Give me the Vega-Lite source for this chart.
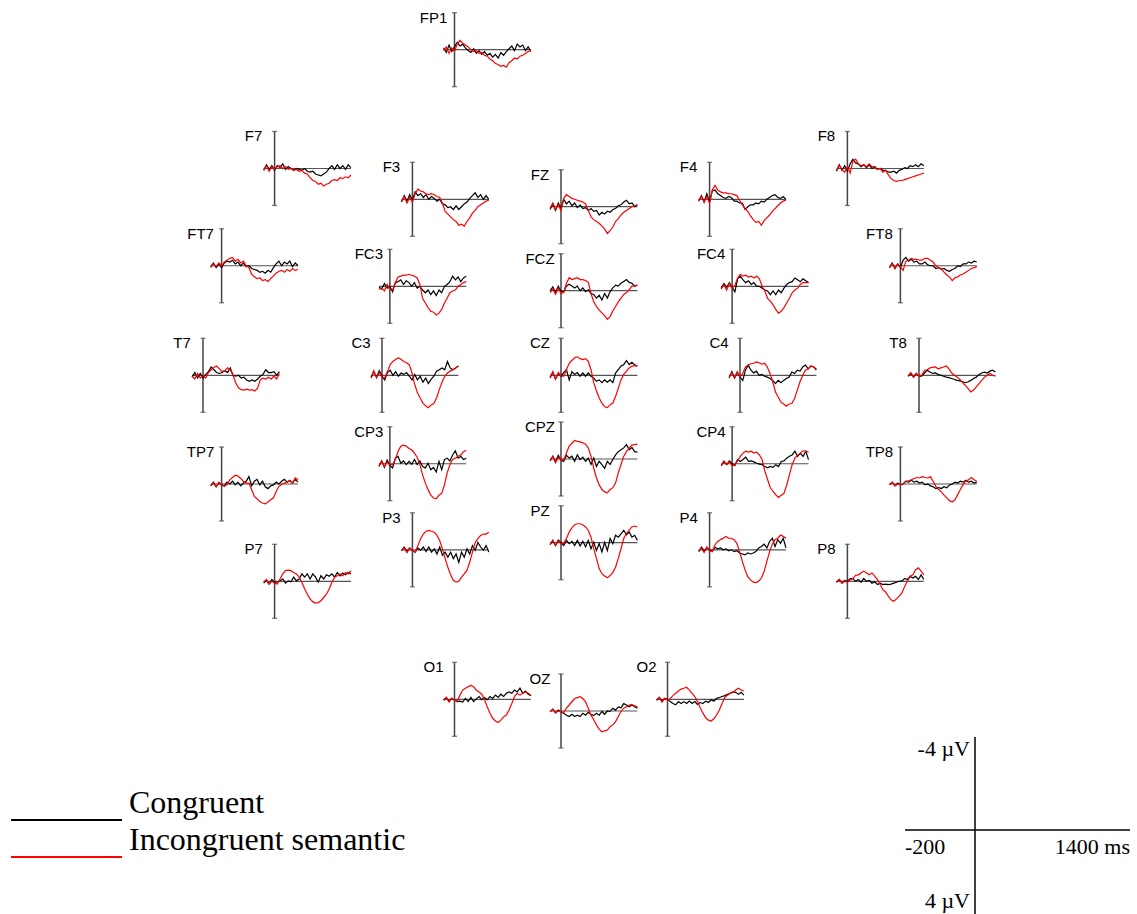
{
"$schema":"https://vega.github.io/schema/vega-lite/v6.json",
"width":1137,"height":914,"padding":0,
"autosize":{"type":"none"},
"background":"white",
"config":{"view":{"stroke":null}},
"datasets":{
"electrodes":[
{"e":"FP1","ex":-0.2975,"ey":0.9095},
{"e":"F7","ex":-0.8,"ey":0.5777},
{"e":"F3","ex":-0.415,"ey":0.4916},
{"e":"FZ","ex":0,"ey":0.471},
{"e":"F4","ex":0.415,"ey":0.4916},
{"e":"F8","ex":0.8,"ey":0.5777},
{"e":"FT7","ex":-0.948,"ey":0.306},
{"e":"FC3","ex":-0.478,"ey":0.2486},
{"e":"FCZ","ex":0,"ey":0.2363},
{"e":"FC4","ex":0.478,"ey":0.2486},
{"e":"FT8","ex":0.948,"ey":0.306},
{"e":"T7","ex":-1,"ey":0},
{"e":"C3","ex":-0.5,"ey":0},
{"e":"CZ","ex":0,"ey":0},
{"e":"C4","ex":0.5,"ey":0},
{"e":"T8","ex":1,"ey":0},
{"e":"TP7","ex":-0.948,"ey":-0.3036},
{"e":"CP3","ex":-0.478,"ey":-0.247},
{"e":"CPZ","ex":0,"ey":-0.2338},
{"e":"CP4","ex":0.478,"ey":-0.247},
{"e":"TP8","ex":0.948,"ey":-0.3036},
{"e":"P7","ex":-0.8,"ey":-0.5754},
{"e":"P3","ex":-0.415,"ey":-0.4874},
{"e":"PZ","ex":0,"ey":-0.4676},
{"e":"P4","ex":0.415,"ey":-0.4874},
{"e":"P8","ex":0.8,"ey":-0.5754},
{"e":"O1","ex":-0.2975,"ey":-0.905},
{"e":"OZ","ex":0,"ey":-0.9377},
{"e":"O2","ex":0.2975,"ey":-0.905}
],
"erp":[
{"e":"FP1","t":-200,"C":-0.2,"I":0.1},{"e":"FP1","t":-150,"C":0.3,"I":-0.3},{"e":"FP1","t":-100,"C":-0.5,"I":0.4},{"e":"FP1","t":-50,"C":0.2,"I":-0.2},{"e":"FP1","t":0,"C":-0.3,"I":0.2},{"e":"FP1","t":50,"C":-0.8,"I":-0.6},{"e":"FP1","t":100,"C":-0.4,"I":-1.0},{"e":"FP1","t":150,"C":-0.6,"I":-0.7},{"e":"FP1","t":200,"C":-0.2,"I":-0.5},{"e":"FP1","t":250,"C":0.1,"I":-0.3},{"e":"FP1","t":300,"C":0.3,"I":0},{"e":"FP1","t":350,"C":-0.1,"I":0.2},{"e":"FP1","t":400,"C":0.4,"I":0.1},{"e":"FP1","t":450,"C":0.1,"I":0.4},{"e":"FP1","t":500,"C":0.5,"I":0.3},{"e":"FP1","t":550,"C":0.2,"I":0.6},{"e":"FP1","t":600,"C":0.6,"I":0.7},{"e":"FP1","t":650,"C":0.4,"I":1.0},{"e":"FP1","t":700,"C":0.8,"I":1.2},{"e":"FP1","t":750,"C":0.5,"I":1.5},{"e":"FP1","t":800,"C":0.9,"I":1.6},{"e":"FP1","t":850,"C":0.3,"I":1.8},{"e":"FP1","t":900,"C":0.6,"I":1.7},{"e":"FP1","t":950,"C":0.2,"I":1.9},{"e":"FP1","t":1000,"C":-0.1,"I":1.4},{"e":"FP1","t":1050,"C":-0.4,"I":1.2},{"e":"FP1","t":1100,"C":0.1,"I":0.9},{"e":"FP1","t":1150,"C":-0.6,"I":1.0},{"e":"FP1","t":1200,"C":-0.3,"I":0.7},{"e":"FP1","t":1250,"C":-0.5,"I":0.6},{"e":"FP1","t":1300,"C":0.1,"I":0.4},{"e":"FP1","t":1350,"C":-0.3,"I":0.2},{"e":"FP1","t":1400,"C":0.2,"I":0.1},
{"e":"F7","t":-200,"C":0.2,"I":0.2},{"e":"F7","t":-150,"C":-0.4,"I":-0.3},{"e":"F7","t":-100,"C":0.1,"I":0.3},{"e":"F7","t":-50,"C":-0.3,"I":-0.2},{"e":"F7","t":0,"C":0.2,"I":0.1},{"e":"F7","t":50,"C":-0.3,"I":-0.2},{"e":"F7","t":100,"C":-0.1,"I":-0.3},{"e":"F7","t":150,"C":-0.5,"I":0},{"e":"F7","t":200,"C":0.1,"I":-0.2},{"e":"F7","t":250,"C":-0.2,"I":0.1},{"e":"F7","t":300,"C":0,"I":0},{"e":"F7","t":350,"C":0.2,"I":0.2},{"e":"F7","t":400,"C":0,"I":0.1},{"e":"F7","t":450,"C":0.1,"I":0.3},{"e":"F7","t":500,"C":0.2,"I":0.2},{"e":"F7","t":550,"C":0,"I":0.5},{"e":"F7","t":600,"C":0.3,"I":0.6},{"e":"F7","t":650,"C":0.4,"I":1.0},{"e":"F7","t":700,"C":0.3,"I":1.3},{"e":"F7","t":750,"C":0.6,"I":1.4},{"e":"F7","t":800,"C":0.7,"I":1.7},{"e":"F7","t":850,"C":0.8,"I":1.6},{"e":"F7","t":900,"C":0.6,"I":1.9},{"e":"F7","t":950,"C":0.4,"I":1.7},{"e":"F7","t":1000,"C":0,"I":1.6},{"e":"F7","t":1050,"C":-0.3,"I":1.3},{"e":"F7","t":1100,"C":0.1,"I":1.2},{"e":"F7","t":1150,"C":-0.4,"I":1.3},{"e":"F7","t":1200,"C":0,"I":1.0},{"e":"F7","t":1250,"C":-0.3,"I":1.1},{"e":"F7","t":1300,"C":0.1,"I":0.9},{"e":"F7","t":1350,"C":-0.4,"I":1.0},{"e":"F7","t":1400,"C":-0.1,"I":0.7},
{"e":"FT7","t":-200,"C":0.1,"I":0.2},{"e":"FT7","t":-150,"C":-0.3,"I":-0.2},{"e":"FT7","t":-100,"C":0.2,"I":0.1},{"e":"FT7","t":-50,"C":-0.2,"I":-0.3},{"e":"FT7","t":0,"C":0.2,"I":0},{"e":"FT7","t":50,"C":-0.3,"I":-0.4},{"e":"FT7","t":100,"C":-0.5,"I":-0.6},{"e":"FT7","t":150,"C":-0.4,"I":-0.8},{"e":"FT7","t":200,"C":-0.6,"I":-0.9},{"e":"FT7","t":250,"C":-0.2,"I":-0.5},{"e":"FT7","t":300,"C":-0.4,"I":-0.7},{"e":"FT7","t":350,"C":0,"I":-0.3},{"e":"FT7","t":400,"C":-0.3,"I":-0.5},{"e":"FT7","t":450,"C":0.1,"I":0},{"e":"FT7","t":500,"C":0,"I":0.2},{"e":"FT7","t":550,"C":0.3,"I":0.9},{"e":"FT7","t":600,"C":0.4,"I":1.2},{"e":"FT7","t":650,"C":0.5,"I":1.4},{"e":"FT7","t":700,"C":0.7,"I":1.3},{"e":"FT7","t":750,"C":0.6,"I":1.6},{"e":"FT7","t":800,"C":0.8,"I":1.5},{"e":"FT7","t":850,"C":0.5,"I":1.7},{"e":"FT7","t":900,"C":0.7,"I":1.4},{"e":"FT7","t":950,"C":0.2,"I":1.1},{"e":"FT7","t":1000,"C":-0.2,"I":0.8},{"e":"FT7","t":1050,"C":-0.5,"I":0.6},{"e":"FT7","t":1100,"C":0,"I":0.5},{"e":"FT7","t":1150,"C":-0.4,"I":0.7},{"e":"FT7","t":1200,"C":-0.2,"I":0.4},{"e":"FT7","t":1250,"C":-0.5,"I":0.6},{"e":"FT7","t":1300,"C":0.1,"I":0.3},{"e":"FT7","t":1350,"C":-0.3,"I":0.5},{"e":"FT7","t":1400,"C":0,"I":0.4},
{"e":"F3","t":-200,"C":0.3,"I":0.2},{"e":"F3","t":-150,"C":-0.4,"I":-0.3},{"e":"F3","t":-100,"C":0.2,"I":0.4},{"e":"F3","t":-50,"C":-0.5,"I":-0.2},{"e":"F3","t":0,"C":0.1,"I":0.3},{"e":"F3","t":50,"C":-0.8,"I":-0.6},{"e":"F3","t":100,"C":-0.4,"I":-1.1},{"e":"F3","t":150,"C":-0.6,"I":-0.9},{"e":"F3","t":200,"C":-0.2,"I":-0.8},{"e":"F3","t":250,"C":-0.5,"I":-0.6},{"e":"F3","t":300,"C":0,"I":-0.5},{"e":"F3","t":350,"C":-0.3,"I":-0.6},{"e":"F3","t":400,"C":-0.1,"I":-0.5},{"e":"F3","t":450,"C":0.2,"I":-0.3},{"e":"F3","t":500,"C":0,"I":-0.2},{"e":"F3","t":550,"C":0.5,"I":0.4},{"e":"F3","t":600,"C":0.6,"I":1.3},{"e":"F3","t":650,"C":0.9,"I":1.6},{"e":"F3","t":700,"C":0.8,"I":1.9},{"e":"F3","t":750,"C":1.1,"I":2.2},{"e":"F3","t":800,"C":0.7,"I":2.4},{"e":"F3","t":850,"C":1.1,"I":2.8},{"e":"F3","t":900,"C":0.8,"I":2.7},{"e":"F3","t":950,"C":0.5,"I":2.9},{"e":"F3","t":1000,"C":0.3,"I":2.4},{"e":"F3","t":1050,"C":-0.1,"I":2.0},{"e":"F3","t":1100,"C":-0.4,"I":1.5},{"e":"F3","t":1150,"C":-0.7,"I":1.2},{"e":"F3","t":1200,"C":-0.2,"I":0.8},{"e":"F3","t":1250,"C":-0.5,"I":0.6},{"e":"F3","t":1300,"C":0,"I":0.4},{"e":"F3","t":1350,"C":-0.4,"I":0.2},{"e":"F3","t":1400,"C":0,"I":0.1},
{"e":"FZ","t":-200,"C":0.3,"I":0.2},{"e":"FZ","t":-150,"C":-0.3,"I":-0.4},{"e":"FZ","t":-100,"C":0.4,"I":0.3},{"e":"FZ","t":-50,"C":-0.4,"I":-0.2},{"e":"FZ","t":0,"C":0.2,"I":0.4},{"e":"FZ","t":50,"C":-0.8,"I":-0.9},{"e":"FZ","t":100,"C":-0.3,"I":-1.3},{"e":"FZ","t":150,"C":-0.6,"I":-1.1},{"e":"FZ","t":200,"C":-0.1,"I":-0.9},{"e":"FZ","t":250,"C":-0.4,"I":-0.8},{"e":"FZ","t":300,"C":0.1,"I":-0.7},{"e":"FZ","t":350,"C":-0.2,"I":-0.6},{"e":"FZ","t":400,"C":0.2,"I":-0.5},{"e":"FZ","t":450,"C":0.1,"I":-0.3},{"e":"FZ","t":500,"C":0.4,"I":0.4},{"e":"FZ","t":550,"C":0.2,"I":1.1},{"e":"FZ","t":600,"C":0.5,"I":1.4},{"e":"FZ","t":650,"C":0.4,"I":1.6},{"e":"FZ","t":700,"C":0.9,"I":1.8},{"e":"FZ","t":750,"C":0.6,"I":2.1},{"e":"FZ","t":800,"C":0.8,"I":2.4},{"e":"FZ","t":850,"C":0.5,"I":2.9},{"e":"FZ","t":900,"C":0.6,"I":2.6},{"e":"FZ","t":950,"C":0.3,"I":2.2},{"e":"FZ","t":1000,"C":0.2,"I":1.6},{"e":"FZ","t":1050,"C":-0.1,"I":1.3},{"e":"FZ","t":1100,"C":-0.2,"I":0.9},{"e":"FZ","t":1150,"C":-0.5,"I":0.6},{"e":"FZ","t":1200,"C":-0.7,"I":0.4},{"e":"FZ","t":1250,"C":-0.3,"I":0.2},{"e":"FZ","t":1300,"C":-0.4,"I":0},{"e":"FZ","t":1350,"C":0,"I":-0.1},{"e":"FZ","t":1400,"C":-0.2,"I":-0.2},
{"e":"F4","t":-200,"C":0.2,"I":0.1},{"e":"F4","t":-150,"C":-0.4,"I":-0.3},{"e":"F4","t":-100,"C":0.3,"I":0.3},{"e":"F4","t":-50,"C":-0.6,"I":-0.3},{"e":"F4","t":0,"C":0.3,"I":0.4},{"e":"F4","t":50,"C":-0.9,"I":-1.0},{"e":"F4","t":100,"C":-1.0,"I":-1.5},{"e":"F4","t":150,"C":-0.6,"I":-1.0},{"e":"F4","t":200,"C":-0.4,"I":-0.8},{"e":"F4","t":250,"C":-0.2,"I":-0.7},{"e":"F4","t":300,"C":-0.1,"I":-0.7},{"e":"F4","t":350,"C":-0.3,"I":-0.6},{"e":"F4","t":400,"C":-0.2,"I":-0.6},{"e":"F4","t":450,"C":0.2,"I":-0.5},{"e":"F4","t":500,"C":0.2,"I":-0.4},{"e":"F4","t":550,"C":0.4,"I":0.1},{"e":"F4","t":600,"C":0.4,"I":0.6},{"e":"F4","t":650,"C":1.1,"I":1.0},{"e":"F4","t":700,"C":0.8,"I":1.3},{"e":"F4","t":750,"C":0.6,"I":1.8},{"e":"F4","t":800,"C":0.6,"I":2.2},{"e":"F4","t":850,"C":0.4,"I":2.5},{"e":"F4","t":900,"C":0.5,"I":2.4},{"e":"F4","t":950,"C":0.2,"I":2.8},{"e":"F4","t":1000,"C":0.3,"I":2.3},{"e":"F4","t":1050,"C":0,"I":2.0},{"e":"F4","t":1100,"C":-0.2,"I":1.7},{"e":"F4","t":1150,"C":-0.4,"I":1.3},{"e":"F4","t":1200,"C":-0.5,"I":1.0},{"e":"F4","t":1250,"C":-0.2,"I":0.7},{"e":"F4","t":1300,"C":-0.1,"I":0.4},{"e":"F4","t":1350,"C":-0.3,"I":0.2},{"e":"F4","t":1400,"C":0,"I":0.1},
{"e":"F8","t":-200,"C":0.3,"I":0.2},{"e":"F8","t":-150,"C":-0.4,"I":-0.3},{"e":"F8","t":-100,"C":0.2,"I":0.1},{"e":"F8","t":-50,"C":-0.3,"I":0.4},{"e":"F8","t":0,"C":0.3,"I":-0.2},{"e":"F8","t":50,"C":-0.5,"I":0.5},{"e":"F8","t":100,"C":-1.0,"I":-0.8},{"e":"F8","t":150,"C":-0.6,"I":-1.0},{"e":"F8","t":200,"C":-0.5,"I":-0.5},{"e":"F8","t":250,"C":-0.2,"I":-0.3},{"e":"F8","t":300,"C":-0.4,"I":-0.4},{"e":"F8","t":350,"C":-0.1,"I":-0.2},{"e":"F8","t":400,"C":-0.4,"I":-0.5},{"e":"F8","t":450,"C":0,"I":-0.2},{"e":"F8","t":500,"C":-0.2,"I":-0.1},{"e":"F8","t":550,"C":0.1,"I":0.1},{"e":"F8","t":600,"C":0,"I":0},{"e":"F8","t":650,"C":0.2,"I":0.4},{"e":"F8","t":700,"C":0.2,"I":0.2},{"e":"F8","t":750,"C":0.4,"I":0.7},{"e":"F8","t":800,"C":0.4,"I":1.1},{"e":"F8","t":850,"C":0.3,"I":1.3},{"e":"F8","t":900,"C":0.5,"I":1.4},{"e":"F8","t":950,"C":0.2,"I":1.3},{"e":"F8","t":1000,"C":0.1,"I":1.3},{"e":"F8","t":1050,"C":-0.1,"I":1.2},{"e":"F8","t":1100,"C":0,"I":1.1},{"e":"F8","t":1150,"C":-0.3,"I":1.0},{"e":"F8","t":1200,"C":-0.2,"I":0.9},{"e":"F8","t":1250,"C":-0.4,"I":0.8},{"e":"F8","t":1300,"C":-0.2,"I":0.7},{"e":"F8","t":1350,"C":-0.5,"I":0.6},{"e":"F8","t":1400,"C":-0.3,"I":0.5},
{"e":"FT8","t":-200,"C":0.2,"I":0.2},{"e":"FT8","t":-150,"C":-0.3,"I":-0.2},{"e":"FT8","t":-100,"C":0.3,"I":0.3},{"e":"FT8","t":-50,"C":-0.2,"I":-0.2},{"e":"FT8","t":0,"C":0.2,"I":0.1},{"e":"FT8","t":50,"C":-0.6,"I":0.5},{"e":"FT8","t":100,"C":-0.9,"I":-0.5},{"e":"FT8","t":150,"C":-0.5,"I":-0.6},{"e":"FT8","t":200,"C":-0.7,"I":-0.8},{"e":"FT8","t":250,"C":-0.4,"I":-0.7},{"e":"FT8","t":300,"C":-0.5,"I":-0.7},{"e":"FT8","t":350,"C":-0.2,"I":-0.6},{"e":"FT8","t":400,"C":-0.2,"I":-0.6},{"e":"FT8","t":450,"C":-0.4,"I":-0.8},{"e":"FT8","t":500,"C":-0.1,"I":-0.8},{"e":"FT8","t":550,"C":0,"I":-0.6},{"e":"FT8","t":600,"C":0,"I":-0.4},{"e":"FT8","t":650,"C":0.3,"I":0},{"e":"FT8","t":700,"C":0.2,"I":0.2},{"e":"FT8","t":750,"C":0.4,"I":0.3},{"e":"FT8","t":800,"C":0.3,"I":0.7},{"e":"FT8","t":850,"C":0.5,"I":1.0},{"e":"FT8","t":900,"C":0.6,"I":1.2},{"e":"FT8","t":950,"C":0.4,"I":1.6},{"e":"FT8","t":1000,"C":0.3,"I":1.3},{"e":"FT8","t":1050,"C":0,"I":1.2},{"e":"FT8","t":1100,"C":0.1,"I":1.0},{"e":"FT8","t":1150,"C":-0.2,"I":0.9},{"e":"FT8","t":1200,"C":-0.2,"I":0.7},{"e":"FT8","t":1250,"C":-0.4,"I":0.5},{"e":"FT8","t":1300,"C":-0.3,"I":0.3},{"e":"FT8","t":1350,"C":-0.5,"I":0.2},{"e":"FT8","t":1400,"C":-0.4,"I":0.1},
{"e":"FC3","t":-200,"C":0.1,"I":0.3},{"e":"FC3","t":-150,"C":0.3,"I":0.2},{"e":"FC3","t":-100,"C":-0.3,"I":0.5},{"e":"FC3","t":-50,"C":0.2,"I":-0.2},{"e":"FC3","t":0,"C":0,"I":0.4},{"e":"FC3","t":50,"C":0.6,"I":0.4},{"e":"FC3","t":100,"C":-0.4,"I":-0.4},{"e":"FC3","t":150,"C":-0.5,"I":-1.0},{"e":"FC3","t":200,"C":-0.7,"I":-1.1},{"e":"FC3","t":250,"C":-0.2,"I":-1.2},{"e":"FC3","t":300,"C":-0.6,"I":-1.2},{"e":"FC3","t":350,"C":-0.4,"I":-1.3},{"e":"FC3","t":400,"C":0,"I":-1.2},{"e":"FC3","t":450,"C":-0.4,"I":-1.1},{"e":"FC3","t":500,"C":0.2,"I":-0.9},{"e":"FC3","t":550,"C":0,"I":-0.2},{"e":"FC3","t":600,"C":0.4,"I":1.3},{"e":"FC3","t":650,"C":0.7,"I":1.8},{"e":"FC3","t":700,"C":0.4,"I":2.3},{"e":"FC3","t":750,"C":0.9,"I":2.7},{"e":"FC3","t":800,"C":0.5,"I":2.8},{"e":"FC3","t":850,"C":1.0,"I":3.1},{"e":"FC3","t":900,"C":0.4,"I":2.9},{"e":"FC3","t":950,"C":0.7,"I":2.5},{"e":"FC3","t":1000,"C":0,"I":1.8},{"e":"FC3","t":1050,"C":-0.2,"I":1.3},{"e":"FC3","t":1100,"C":-0.5,"I":0.7},{"e":"FC3","t":1150,"C":-1.1,"I":0.5},{"e":"FC3","t":1200,"C":-0.7,"I":0.4},{"e":"FC3","t":1250,"C":-1.0,"I":0},{"e":"FC3","t":1300,"C":-0.5,"I":-0.2},{"e":"FC3","t":1350,"C":-0.9,"I":-0.4},{"e":"FC3","t":1400,"C":-1.1,"I":-0.5},
{"e":"FCZ","t":-200,"C":0,"I":0.2},{"e":"FCZ","t":-150,"C":-0.4,"I":-0.2},{"e":"FCZ","t":-100,"C":0.2,"I":0.4},{"e":"FCZ","t":-50,"C":-0.5,"I":-0.3},{"e":"FCZ","t":0,"C":0.1,"I":0.3},{"e":"FCZ","t":50,"C":0.1,"I":0.2},{"e":"FCZ","t":100,"C":-0.5,"I":-0.8},{"e":"FCZ","t":150,"C":-0.7,"I":-1.4},{"e":"FCZ","t":200,"C":-0.5,"I":-1.2},{"e":"FCZ","t":250,"C":-0.3,"I":-1.3},{"e":"FCZ","t":300,"C":-0.5,"I":-1.4},{"e":"FCZ","t":350,"C":0,"I":-1.2},{"e":"FCZ","t":400,"C":-0.3,"I":-1.2},{"e":"FCZ","t":450,"C":0.1,"I":-1.1},{"e":"FCZ","t":500,"C":-0.1,"I":-0.9},{"e":"FCZ","t":550,"C":0.3,"I":0.3},{"e":"FCZ","t":600,"C":0.4,"I":1.2},{"e":"FCZ","t":650,"C":0.8,"I":1.7},{"e":"FCZ","t":700,"C":0.5,"I":2.1},{"e":"FCZ","t":750,"C":1.0,"I":2.4},{"e":"FCZ","t":800,"C":0.3,"I":2.7},{"e":"FCZ","t":850,"C":0.8,"I":3.1},{"e":"FCZ","t":900,"C":0.1,"I":2.8},{"e":"FCZ","t":950,"C":-0.3,"I":2.2},{"e":"FCZ","t":1000,"C":-0.6,"I":1.7},{"e":"FCZ","t":1050,"C":-0.5,"I":1.2},{"e":"FCZ","t":1100,"C":-0.8,"I":0.8},{"e":"FCZ","t":1150,"C":-1.0,"I":0.4},{"e":"FCZ","t":1200,"C":-1.2,"I":0.2},{"e":"FCZ","t":1250,"C":-0.9,"I":-0.1},{"e":"FCZ","t":1300,"C":-0.8,"I":-0.5},{"e":"FCZ","t":1350,"C":-0.5,"I":-0.5},{"e":"FCZ","t":1400,"C":-0.6,"I":-0.6},
{"e":"FC4","t":-200,"C":0.2,"I":0.3},{"e":"FC4","t":-150,"C":-0.3,"I":-0.2},{"e":"FC4","t":-100,"C":0.1,"I":0.4},{"e":"FC4","t":-50,"C":-0.4,"I":-0.3},{"e":"FC4","t":0,"C":0.1,"I":0.2},{"e":"FC4","t":50,"C":0.6,"I":-0.1},{"e":"FC4","t":100,"C":-0.8,"I":-0.9},{"e":"FC4","t":150,"C":-1.1,"I":-1.3},{"e":"FC4","t":200,"C":-0.7,"I":-1.1},{"e":"FC4","t":250,"C":-0.4,"I":-1.2},{"e":"FC4","t":300,"C":-0.6,"I":-1.0},{"e":"FC4","t":350,"C":-0.2,"I":-1.1},{"e":"FC4","t":400,"C":-0.4,"I":-0.9},{"e":"FC4","t":450,"C":0,"I":-1.1},{"e":"FC4","t":500,"C":0,"I":-0.8},{"e":"FC4","t":550,"C":0.2,"I":0},{"e":"FC4","t":600,"C":0.4,"I":0.5},{"e":"FC4","t":650,"C":0.5,"I":1.3},{"e":"FC4","t":700,"C":0.9,"I":1.6},{"e":"FC4","t":750,"C":0.5,"I":2.0},{"e":"FC4","t":800,"C":0.9,"I":2.5},{"e":"FC4","t":850,"C":0.4,"I":2.9},{"e":"FC4","t":900,"C":0.7,"I":2.7},{"e":"FC4","t":950,"C":0.2,"I":2.3},{"e":"FC4","t":1000,"C":-0.2,"I":1.8},{"e":"FC4","t":1050,"C":-0.4,"I":1.3},{"e":"FC4","t":1100,"C":-0.5,"I":0.7},{"e":"FC4","t":1150,"C":-0.9,"I":0.4},{"e":"FC4","t":1200,"C":-0.7,"I":0.2},{"e":"FC4","t":1250,"C":-0.5,"I":-0.2},{"e":"FC4","t":1300,"C":-0.8,"I":-0.4},{"e":"FC4","t":1350,"C":-0.6,"I":-0.4},{"e":"FC4","t":1400,"C":-0.4,"I":-0.4},
{"e":"T7","t":-200,"C":0.2,"I":0.1},{"e":"T7","t":-150,"C":-0.3,"I":0.4},{"e":"T7","t":-100,"C":0.3,"I":-0.2},{"e":"T7","t":-50,"C":-0.2,"I":0.3},{"e":"T7","t":0,"C":0.3,"I":0},{"e":"T7","t":50,"C":-0.1,"I":0.3},{"e":"T7","t":100,"C":-0.4,"I":-0.3},{"e":"T7","t":150,"C":-0.9,"I":-0.6},{"e":"T7","t":200,"C":-0.6,"I":-0.85},{"e":"T7","t":250,"C":-0.3,"I":-1.0},{"e":"T7","t":300,"C":-0.2,"I":-0.7},{"e":"T7","t":350,"C":-0.3,"I":-0.4},{"e":"T7","t":400,"C":-0.5,"I":-0.5},{"e":"T7","t":450,"C":-0.3,"I":-0.8},{"e":"T7","t":500,"C":-0.8,"I":-0.6},{"e":"T7","t":550,"C":0,"I":0},{"e":"T7","t":600,"C":0.1,"I":0.8},{"e":"T7","t":650,"C":0,"I":1.35},{"e":"T7","t":700,"C":0.3,"I":1.55},{"e":"T7","t":750,"C":0.2,"I":1.6},{"e":"T7","t":800,"C":0.5,"I":1.5},{"e":"T7","t":850,"C":0.65,"I":1.6},{"e":"T7","t":900,"C":0.5,"I":1.55},{"e":"T7","t":950,"C":0.65,"I":1.7},{"e":"T7","t":1000,"C":0.4,"I":1.4},{"e":"T7","t":1050,"C":0.1,"I":0.5},{"e":"T7","t":1100,"C":-0.1,"I":0.3},{"e":"T7","t":1150,"C":-0.6,"I":0.4},{"e":"T7","t":1200,"C":-0.3,"I":0.2},{"e":"T7","t":1250,"C":-0.3,"I":0.4},{"e":"T7","t":1300,"C":-0.4,"I":0.1},{"e":"T7","t":1350,"C":0,"I":0.4},{"e":"T7","t":1400,"C":-0.4,"I":-0.2},
{"e":"C3","t":-200,"C":0.3,"I":0.2},{"e":"C3","t":-150,"C":-0.4,"I":-0.5},{"e":"C3","t":-100,"C":0.2,"I":0.3},{"e":"C3","t":-50,"C":-0.5,"I":-0.3},{"e":"C3","t":0,"C":0.1,"I":0.2},{"e":"C3","t":50,"C":0.5,"I":0.3},{"e":"C3","t":100,"C":-0.3,"I":-0.4},{"e":"C3","t":150,"C":-0.55,"I":-1.15},{"e":"C3","t":200,"C":0,"I":-1.5},{"e":"C3","t":250,"C":-0.4,"I":-1.7},{"e":"C3","t":300,"C":0.1,"I":-1.9},{"e":"C3","t":350,"C":-0.25,"I":-1.7},{"e":"C3","t":400,"C":-0.1,"I":-1.5},{"e":"C3","t":450,"C":-0.3,"I":-1.35},{"e":"C3","t":500,"C":0.1,"I":-1.15},{"e":"C3","t":550,"C":0.5,"I":-0.25},{"e":"C3","t":600,"C":-0.1,"I":1.0},{"e":"C3","t":650,"C":0.5,"I":1.9},{"e":"C3","t":700,"C":0.1,"I":2.45},{"e":"C3","t":750,"C":0.75,"I":3.0},{"e":"C3","t":800,"C":0.3,"I":3.3},{"e":"C3","t":850,"C":0.9,"I":3.5},{"e":"C3","t":900,"C":0.45,"I":3.2},{"e":"C3","t":950,"C":0.1,"I":3.06},{"e":"C3","t":1000,"C":-0.45,"I":2.45},{"e":"C3","t":1050,"C":-0.6,"I":1.55},{"e":"C3","t":1100,"C":-0.8,"I":0.75},{"e":"C3","t":1150,"C":-0.6,"I":0.1},{"e":"C3","t":1200,"C":-1.5,"I":-0.25},{"e":"C3","t":1250,"C":-0.8,"I":-0.45},{"e":"C3","t":1300,"C":-0.6,"I":-0.6},{"e":"C3","t":1350,"C":-0.8,"I":-0.8},{"e":"C3","t":1400,"C":-1.0,"I":-1.0},
{"e":"CZ","t":-200,"C":0.3,"I":0.2},{"e":"CZ","t":-150,"C":-0.3,"I":-0.4},{"e":"CZ","t":-100,"C":0.4,"I":0.4},{"e":"CZ","t":-50,"C":-0.2,"I":-0.3},{"e":"CZ","t":0,"C":0.1,"I":0.1},{"e":"CZ","t":50,"C":-0.3,"I":0.1},{"e":"CZ","t":100,"C":-0.6,"I":-0.6},{"e":"CZ","t":150,"C":0.5,"I":-1.3},{"e":"CZ","t":200,"C":-0.4,"I":-1.6},{"e":"CZ","t":250,"C":-0.1,"I":-1.9},{"e":"CZ","t":300,"C":-0.3,"I":-2.0},{"e":"CZ","t":350,"C":0.1,"I":-1.8},{"e":"CZ","t":400,"C":-0.25,"I":-1.7},{"e":"CZ","t":450,"C":0.1,"I":-1.8},{"e":"CZ","t":500,"C":-0.25,"I":-1.5},{"e":"CZ","t":550,"C":0.1,"I":-0.6},{"e":"CZ","t":600,"C":0.3,"I":0.8},{"e":"CZ","t":650,"C":0.65,"I":1.7},{"e":"CZ","t":700,"C":0.5,"I":2.45},{"e":"CZ","t":750,"C":0.8,"I":3.0},{"e":"CZ","t":800,"C":0.5,"I":3.4},{"e":"CZ","t":850,"C":0.75,"I":3.5},{"e":"CZ","t":900,"C":0.5,"I":3.2},{"e":"CZ","t":950,"C":0.8,"I":3.0},{"e":"CZ","t":1000,"C":-0.25,"I":2.3},{"e":"CZ","t":1050,"C":-0.6,"I":1.4},{"e":"CZ","t":1100,"C":-1.0,"I":0.5},{"e":"CZ","t":1150,"C":-1.15,"I":-0.1},{"e":"CZ","t":1200,"C":-1.6,"I":-0.45},{"e":"CZ","t":1250,"C":-1.15,"I":-0.8},{"e":"CZ","t":1300,"C":-1.4,"I":-1.0},{"e":"CZ","t":1350,"C":-1.15,"I":-1.05},{"e":"CZ","t":1400,"C":-1.0,"I":-1.0},
{"e":"C4","t":-200,"C":0.3,"I":0.2},{"e":"C4","t":-150,"C":-0.4,"I":-0.3},{"e":"C4","t":-100,"C":0.3,"I":0.3},{"e":"C4","t":-50,"C":-0.3,"I":-0.4},{"e":"C4","t":0,"C":0.2,"I":0.2},{"e":"C4","t":50,"C":0.55,"I":-0.2},{"e":"C4","t":100,"C":-0.55,"I":-0.9},{"e":"C4","t":150,"C":-1.1,"I":-1.1},{"e":"C4","t":200,"C":-0.55,"I":-1.25},{"e":"C4","t":250,"C":-0.25,"I":-1.3},{"e":"C4","t":300,"C":-0.45,"I":-1.45},{"e":"C4","t":350,"C":0,"I":-1.35},{"e":"C4","t":400,"C":-0.1,"I":-1.2},{"e":"C4","t":450,"C":0.1,"I":-1.3},{"e":"C4","t":500,"C":0.2,"I":-0.9},{"e":"C4","t":550,"C":0.35,"I":-0.2},{"e":"C4","t":600,"C":0.55,"I":0.7},{"e":"C4","t":650,"C":0.9,"I":1.8},{"e":"C4","t":700,"C":0.55,"I":2.35},{"e":"C4","t":750,"C":0.8,"I":2.9},{"e":"C4","t":800,"C":0.55,"I":3.1},{"e":"C4","t":850,"C":0.35,"I":3.35},{"e":"C4","t":900,"C":0.2,"I":3.1},{"e":"C4","t":950,"C":-0.35,"I":3.05},{"e":"C4","t":1000,"C":-0.2,"I":2.5},{"e":"C4","t":1050,"C":-0.55,"I":1.6},{"e":"C4","t":1100,"C":-0.45,"I":0.7},{"e":"C4","t":1150,"C":-0.9,"I":0},{"e":"C4","t":1200,"C":-1.1,"I":-0.55},{"e":"C4","t":1250,"C":-0.7,"I":-0.7},{"e":"C4","t":1300,"C":-1.0,"I":-1.0},{"e":"C4","t":1350,"C":-0.9,"I":-0.9},{"e":"C4","t":1400,"C":-0.55,"I":-0.7},
{"e":"T8","t":-200,"C":0.1,"I":0.1},{"e":"T8","t":-150,"C":-0.2,"I":-0.3},{"e":"T8","t":-100,"C":0.2,"I":0.2},{"e":"T8","t":-50,"C":-0.2,"I":-0.2},{"e":"T8","t":0,"C":0.1,"I":0.1},{"e":"T8","t":50,"C":0.1,"I":0},{"e":"T8","t":100,"C":-0.25,"I":-0.55},{"e":"T8","t":150,"C":-0.55,"I":-0.6},{"e":"T8","t":200,"C":-0.35,"I":-0.8},{"e":"T8","t":250,"C":-0.2,"I":-0.85},{"e":"T8","t":300,"C":-0.25,"I":-0.9},{"e":"T8","t":350,"C":-0.1,"I":-0.7},{"e":"T8","t":400,"C":0,"I":-0.8},{"e":"T8","t":450,"C":0.1,"I":-0.9},{"e":"T8","t":500,"C":0.2,"I":-1.0},{"e":"T8","t":550,"C":0.25,"I":-0.7},{"e":"T8","t":600,"C":0.35,"I":-0.25},{"e":"T8","t":650,"C":0.45,"I":0},{"e":"T8","t":700,"C":0.55,"I":0.2},{"e":"T8","t":750,"C":0.6,"I":0.45},{"e":"T8","t":800,"C":0.7,"I":0.8},{"e":"T8","t":850,"C":0.8,"I":1.1},{"e":"T8","t":900,"C":0.7,"I":1.45},{"e":"T8","t":950,"C":0.55,"I":1.8},{"e":"T8","t":1000,"C":0.35,"I":1.6},{"e":"T8","t":1050,"C":0.2,"I":1.25},{"e":"T8","t":1100,"C":-0.1,"I":0.9},{"e":"T8","t":1150,"C":-0.25,"I":0.55},{"e":"T8","t":1200,"C":-0.35,"I":0.2},{"e":"T8","t":1250,"C":-0.25,"I":0},{"e":"T8","t":1300,"C":-0.45,"I":-0.2},{"e":"T8","t":1350,"C":-0.55,"I":0},{"e":"T8","t":1400,"C":-0.35,"I":0.1},
{"e":"TP7","t":-200,"C":0.2,"I":0.2},{"e":"TP7","t":-150,"C":-0.2,"I":-0.1},{"e":"TP7","t":-100,"C":0.3,"I":0.3},{"e":"TP7","t":-50,"C":-0.1,"I":-0.2},{"e":"TP7","t":0,"C":0.1,"I":0.1},{"e":"TP7","t":50,"C":0.2,"I":0.25},{"e":"TP7","t":100,"C":-0.2,"I":0.05},{"e":"TP7","t":150,"C":0,"I":-0.45},{"e":"TP7","t":200,"C":-0.3,"I":-0.7},{"e":"TP7","t":250,"C":0.1,"I":-0.95},{"e":"TP7","t":300,"C":-0.2,"I":-0.85},{"e":"TP7","t":350,"C":0.2,"I":-0.6},{"e":"TP7","t":400,"C":-0.1,"I":-0.3},{"e":"TP7","t":450,"C":-0.3,"I":-0.1},{"e":"TP7","t":500,"C":-0.8,"I":-0.1},{"e":"TP7","t":550,"C":0.2,"I":0.6},{"e":"TP7","t":600,"C":-0.3,"I":1.35},{"e":"TP7","t":650,"C":-0.5,"I":1.6},{"e":"TP7","t":700,"C":0.1,"I":1.9},{"e":"TP7","t":750,"C":-0.3,"I":2.05},{"e":"TP7","t":800,"C":0.3,"I":2.15},{"e":"TP7","t":850,"C":0.5,"I":1.95},{"e":"TP7","t":900,"C":0.2,"I":1.7},{"e":"TP7","t":950,"C":0.1,"I":1.5},{"e":"TP7","t":1000,"C":-0.2,"I":0.8},{"e":"TP7","t":1050,"C":0,"I":0.25},{"e":"TP7","t":1100,"C":-0.3,"I":0.05},{"e":"TP7","t":1150,"C":-0.5,"I":-0.1},{"e":"TP7","t":1200,"C":-0.2,"I":-0.2},{"e":"TP7","t":1250,"C":-0.4,"I":-0.35},{"e":"TP7","t":1300,"C":-0.1,"I":-0.1},{"e":"TP7","t":1350,"C":-0.5,"I":-0.65},{"e":"TP7","t":1400,"C":-0.2,"I":-0.45},
{"e":"CP3","t":-200,"C":0.3,"I":0.2},{"e":"CP3","t":-150,"C":-0.3,"I":-0.3},{"e":"CP3","t":-100,"C":0.4,"I":0.3},{"e":"CP3","t":-50,"C":-0.4,"I":-0.2},{"e":"CP3","t":0,"C":0.2,"I":0.1},{"e":"CP3","t":50,"C":0.45,"I":0.1},{"e":"CP3","t":100,"C":-0.6,"I":-0.45},{"e":"CP3","t":150,"C":-0.8,"I":-1.35},{"e":"CP3","t":200,"C":-0.05,"I":-1.9},{"e":"CP3","t":250,"C":-0.3,"I":-2.0},{"e":"CP3","t":300,"C":0.1,"I":-1.9},{"e":"CP3","t":350,"C":-0.25,"I":-1.65},{"e":"CP3","t":400,"C":0.05,"I":-1.5},{"e":"CP3","t":450,"C":-0.45,"I":-1.15},{"e":"CP3","t":500,"C":0.1,"I":-0.7},{"e":"CP3","t":550,"C":-0.3,"I":0.1},{"e":"CP3","t":600,"C":0.3,"I":1.2},{"e":"CP3","t":650,"C":0.45,"I":2.1},{"e":"CP3","t":700,"C":-0.05,"I":2.8},{"e":"CP3","t":750,"C":0.65,"I":3.4},{"e":"CP3","t":800,"C":0.4,"I":3.7},{"e":"CP3","t":850,"C":0.9,"I":3.8},{"e":"CP3","t":900,"C":-0.25,"I":3.4},{"e":"CP3","t":950,"C":0.65,"I":3.2},{"e":"CP3","t":1000,"C":-0.45,"I":2.3},{"e":"CP3","t":1050,"C":-0.6,"I":1.0},{"e":"CP3","t":1100,"C":-0.3,"I":0.1},{"e":"CP3","t":1150,"C":-0.95,"I":-0.45},{"e":"CP3","t":1200,"C":-1.4,"I":-0.6},{"e":"CP3","t":1250,"C":-0.6,"I":-0.8},{"e":"CP3","t":1300,"C":-0.8,"I":-0.95},{"e":"CP3","t":1350,"C":-0.45,"I":-1.3},{"e":"CP3","t":1400,"C":-0.6,"I":-1.45},
{"e":"CPZ","t":-200,"C":0.2,"I":0.2},{"e":"CPZ","t":-150,"C":-0.3,"I":-0.3},{"e":"CPZ","t":-100,"C":0.3,"I":0.4},{"e":"CPZ","t":-50,"C":-0.4,"I":-0.2},{"e":"CPZ","t":0,"C":0.1,"I":0.1},{"e":"CPZ","t":50,"C":0.25,"I":0.1},{"e":"CPZ","t":100,"C":-0.4,"I":-0.65},{"e":"CPZ","t":150,"C":-0.1,"I":-1.4},{"e":"CPZ","t":200,"C":-0.3,"I":-1.7},{"e":"CPZ","t":250,"C":0.25,"I":-2.0},{"e":"CPZ","t":300,"C":-0.45,"I":-1.9},{"e":"CPZ","t":350,"C":0.05,"I":-1.85},{"e":"CPZ","t":400,"C":-0.2,"I":-1.75},{"e":"CPZ","t":450,"C":0.25,"I":-1.6},{"e":"CPZ","t":500,"C":-0.1,"I":-1.2},{"e":"CPZ","t":550,"C":0.6,"I":-0.3},{"e":"CPZ","t":600,"C":-0.1,"I":1.0},{"e":"CPZ","t":650,"C":0.8,"I":2.05},{"e":"CPZ","t":700,"C":0.25,"I":2.8},{"e":"CPZ","t":750,"C":0.6,"I":3.3},{"e":"CPZ","t":800,"C":1.0,"I":3.55},{"e":"CPZ","t":850,"C":0.25,"I":3.65},{"e":"CPZ","t":900,"C":0.6,"I":3.3},{"e":"CPZ","t":950,"C":0.05,"I":3.1},{"e":"CPZ","t":1000,"C":-0.45,"I":2.6},{"e":"CPZ","t":1050,"C":-0.8,"I":1.5},{"e":"CPZ","t":1100,"C":-1.0,"I":0.6},{"e":"CPZ","t":1150,"C":-1.2,"I":-0.3},{"e":"CPZ","t":1200,"C":-1.55,"I":-0.8},{"e":"CPZ","t":1250,"C":-1.0,"I":-1.2},{"e":"CPZ","t":1300,"C":-1.25,"I":-1.5},{"e":"CPZ","t":1350,"C":-0.8,"I":-1.55},{"e":"CPZ","t":1400,"C":-0.75,"I":-1.6},
{"e":"CP4","t":-200,"C":0.2,"I":0.2},{"e":"CP4","t":-150,"C":-0.2,"I":-0.3},{"e":"CP4","t":-100,"C":0.1,"I":0.1},{"e":"CP4","t":-50,"C":-0.3,"I":-0.2},{"e":"CP4","t":0,"C":0,"I":0.2},{"e":"CP4","t":50,"C":0.2,"I":0.1},{"e":"CP4","t":100,"C":-0.45,"I":-0.3},{"e":"CP4","t":150,"C":-0.25,"I":-0.8},{"e":"CP4","t":200,"C":-0.45,"I":-1.15},{"e":"CP4","t":250,"C":-0.7,"I":-1.35},{"e":"CP4","t":300,"C":-0.25,"I":-1.25},{"e":"CP4","t":350,"C":-0.3,"I":-1.35},{"e":"CP4","t":400,"C":-0.2,"I":-1.15},{"e":"CP4","t":450,"C":-0.05,"I":-1.25},{"e":"CP4","t":500,"C":0.05,"I":-0.95},{"e":"CP4","t":550,"C":0.1,"I":-0.45},{"e":"CP4","t":600,"C":0.3,"I":0.8},{"e":"CP4","t":650,"C":0.45,"I":1.7},{"e":"CP4","t":700,"C":0.3,"I":2.6},{"e":"CP4","t":750,"C":0.4,"I":3.0},{"e":"CP4","t":800,"C":0.1,"I":3.35},{"e":"CP4","t":850,"C":0.3,"I":3.65},{"e":"CP4","t":900,"C":-0.25,"I":3.4},{"e":"CP4","t":950,"C":-0.3,"I":3.2},{"e":"CP4","t":1000,"C":-0.6,"I":2.3},{"e":"CP4","t":1050,"C":-0.8,"I":1.2},{"e":"CP4","t":1100,"C":-0.95,"I":0.1},{"e":"CP4","t":1150,"C":-1.35,"I":-0.6},{"e":"CP4","t":1200,"C":-0.8,"I":-0.9},{"e":"CP4","t":1250,"C":-1.15,"I":-1.15},{"e":"CP4","t":1300,"C":-0.8,"I":-1.4},{"e":"CP4","t":1350,"C":-1.35,"I":-1.35},{"e":"CP4","t":1400,"C":-0.45,"I":-1.25},
{"e":"TP8","t":-200,"C":0.1,"I":0.1},{"e":"TP8","t":-150,"C":-0.2,"I":-0.2},{"e":"TP8","t":-100,"C":0.2,"I":0.2},{"e":"TP8","t":-50,"C":-0.1,"I":0},{"e":"TP8","t":0,"C":0.1,"I":0.1},{"e":"TP8","t":50,"C":0,"I":0},{"e":"TP8","t":100,"C":-0.3,"I":-0.3},{"e":"TP8","t":150,"C":-0.2,"I":-0.35},{"e":"TP8","t":200,"C":-0.4,"I":-0.45},{"e":"TP8","t":250,"C":-0.2,"I":-0.6},{"e":"TP8","t":300,"C":-0.3,"I":-0.7},{"e":"TP8","t":350,"C":-0.1,"I":-0.65},{"e":"TP8","t":400,"C":-0.2,"I":-0.8},{"e":"TP8","t":450,"C":0.1,"I":-0.7},{"e":"TP8","t":500,"C":0,"I":-0.65},{"e":"TP8","t":550,"C":0.2,"I":-0.8},{"e":"TP8","t":600,"C":0.3,"I":-0.3},{"e":"TP8","t":650,"C":0.5,"I":0.25},{"e":"TP8","t":700,"C":0.4,"I":0.6},{"e":"TP8","t":750,"C":0.5,"I":0.85},{"e":"TP8","t":800,"C":0.3,"I":1.2},{"e":"TP8","t":850,"C":0.4,"I":1.5},{"e":"TP8","t":900,"C":0.1,"I":1.8},{"e":"TP8","t":950,"C":0,"I":1.95},{"e":"TP8","t":1000,"C":-0.2,"I":1.7},{"e":"TP8","t":1050,"C":-0.1,"I":1.15},{"e":"TP8","t":1100,"C":-0.3,"I":0.6},{"e":"TP8","t":1150,"C":-0.2,"I":0.05},{"e":"TP8","t":1200,"C":-0.4,"I":-0.3},{"e":"TP8","t":1250,"C":-0.2,"I":-0.45},{"e":"TP8","t":1300,"C":-0.3,"I":-0.7},{"e":"TP8","t":1350,"C":-0.1,"I":-0.45},{"e":"TP8","t":1400,"C":-0.2,"I":-0.3},
{"e":"P7","t":-200,"C":0.2,"I":0.1},{"e":"P7","t":-150,"C":-0.1,"I":-0.2},{"e":"P7","t":-100,"C":0.3,"I":0.3},{"e":"P7","t":-50,"C":-0.2,"I":0},{"e":"P7","t":0,"C":0.1,"I":0.2},{"e":"P7","t":50,"C":0.1,"I":0.3},{"e":"P7","t":100,"C":-0.05,"I":-0.25},{"e":"P7","t":150,"C":-0.25,"I":-0.8},{"e":"P7","t":200,"C":0.2,"I":-1.15},{"e":"P7","t":250,"C":-0.05,"I":-1.2},{"e":"P7","t":300,"C":0.05,"I":-1.15},{"e":"P7","t":350,"C":-0.45,"I":-0.95},{"e":"P7","t":400,"C":-0.05,"I":-0.8},{"e":"P7","t":450,"C":-0.25,"I":-0.45},{"e":"P7","t":500,"C":-0.8,"I":0.1},{"e":"P7","t":550,"C":-0.45,"I":0.8},{"e":"P7","t":600,"C":-0.8,"I":1.4},{"e":"P7","t":650,"C":-0.25,"I":1.9},{"e":"P7","t":700,"C":-0.8,"I":2.2},{"e":"P7","t":750,"C":-0.45,"I":2.35},{"e":"P7","t":800,"C":0.1,"I":2.3},{"e":"P7","t":850,"C":-0.6,"I":2.1},{"e":"P7","t":900,"C":-0.25,"I":1.75},{"e":"P7","t":950,"C":-0.7,"I":1.4},{"e":"P7","t":1000,"C":-0.55,"I":0.85},{"e":"P7","t":1050,"C":-0.8,"I":0.1},{"e":"P7","t":1100,"C":-0.45,"I":-0.45},{"e":"P7","t":1150,"C":-0.95,"I":-0.6},{"e":"P7","t":1200,"C":-0.6,"I":-0.8},{"e":"P7","t":1250,"C":-0.9,"I":-0.6},{"e":"P7","t":1300,"C":-0.7,"I":-0.95},{"e":"P7","t":1350,"C":-0.95,"I":-0.8},{"e":"P7","t":1400,"C":-0.8,"I":-1.15},
{"e":"P3","t":-200,"C":0.1,"I":0.1},{"e":"P3","t":-150,"C":-0.3,"I":-0.2},{"e":"P3","t":-100,"C":0.2,"I":0.3},{"e":"P3","t":-50,"C":-0.2,"I":-0.2},{"e":"P3","t":0,"C":0.1,"I":0.1},{"e":"P3","t":50,"C":0.25,"I":0.25},{"e":"P3","t":100,"C":-0.2,"I":-0.45},{"e":"P3","t":150,"C":0.05,"I":-1.2},{"e":"P3","t":200,"C":-0.3,"I":-1.7},{"e":"P3","t":250,"C":0.2,"I":-2.0},{"e":"P3","t":300,"C":-0.3,"I":-2.1},{"e":"P3","t":350,"C":0.25,"I":-2.0},{"e":"P3","t":400,"C":-0.1,"I":-1.9},{"e":"P3","t":450,"C":0.45,"I":-1.55},{"e":"P3","t":500,"C":-0.3,"I":-1.0},{"e":"P3","t":550,"C":0.6,"I":-0.1},{"e":"P3","t":600,"C":0.25,"I":0.95},{"e":"P3","t":650,"C":0.8,"I":1.9},{"e":"P3","t":700,"C":0.25,"I":2.7},{"e":"P3","t":750,"C":0.95,"I":3.3},{"e":"P3","t":800,"C":0.45,"I":3.5},{"e":"P3","t":850,"C":1.35,"I":3.4},{"e":"P3","t":900,"C":0.25,"I":2.95},{"e":"P3","t":950,"C":0.8,"I":2.6},{"e":"P3","t":1000,"C":-0.1,"I":2.2},{"e":"P3","t":1050,"C":0.45,"I":1.35},{"e":"P3","t":1100,"C":-0.45,"I":0.25},{"e":"P3","t":1150,"C":0.05,"I":-0.8},{"e":"P3","t":1200,"C":-0.8,"I":-1.2},{"e":"P3","t":1250,"C":-0.3,"I":-1.55},{"e":"P3","t":1300,"C":0.05,"I":-1.7},{"e":"P3","t":1350,"C":-0.45,"I":-1.7},{"e":"P3","t":1400,"C":0.25,"I":-1.9},
{"e":"PZ","t":-200,"C":0.2,"I":0.2},{"e":"PZ","t":-150,"C":-0.2,"I":-0.3},{"e":"PZ","t":-100,"C":0.3,"I":0.3},{"e":"PZ","t":-50,"C":-0.3,"I":-0.2},{"e":"PZ","t":0,"C":0,"I":0.1},{"e":"PZ","t":50,"C":0.3,"I":0.1},{"e":"PZ","t":100,"C":-0.25,"I":-0.45},{"e":"PZ","t":150,"C":0.1,"I":-1.15},{"e":"PZ","t":200,"C":-0.15,"I":-1.6},{"e":"PZ","t":250,"C":0.3,"I":-1.95},{"e":"PZ","t":300,"C":-0.25,"I":-2.05},{"e":"PZ","t":350,"C":0.35,"I":-2.05},{"e":"PZ","t":400,"C":-0.15,"I":-1.95},{"e":"PZ","t":450,"C":0.45,"I":-1.7},{"e":"PZ","t":500,"C":-0.25,"I":-1.35},{"e":"PZ","t":550,"C":0.65,"I":-0.6},{"e":"PZ","t":600,"C":-0.05,"I":0.65},{"e":"PZ","t":650,"C":0.85,"I":1.7},{"e":"PZ","t":700,"C":0.1,"I":2.8},{"e":"PZ","t":750,"C":1.0,"I":3.35},{"e":"PZ","t":800,"C":-0.05,"I":3.6},{"e":"PZ","t":850,"C":0.85,"I":3.8},{"e":"PZ","t":900,"C":-0.45,"I":3.55},{"e":"PZ","t":950,"C":0.1,"I":3.2},{"e":"PZ","t":1000,"C":-0.8,"I":2.65},{"e":"PZ","t":1050,"C":-0.6,"I":1.7},{"e":"PZ","t":1100,"C":-0.95,"I":0.65},{"e":"PZ","t":1150,"C":-1.35,"I":-0.45},{"e":"PZ","t":1200,"C":-0.85,"I":-1.0},{"e":"PZ","t":1250,"C":-1.15,"I":-1.35},{"e":"PZ","t":1300,"C":-0.6,"I":-1.7},{"e":"PZ","t":1350,"C":-0.8,"I":-1.8},{"e":"PZ","t":1400,"C":-0.25,"I":-1.7},
{"e":"P4","t":-200,"C":0.2,"I":0.1},{"e":"P4","t":-150,"C":-0.3,"I":-0.2},{"e":"P4","t":-100,"C":0.1,"I":0.3},{"e":"P4","t":-50,"C":-0.2,"I":-0.3},{"e":"P4","t":0,"C":0,"I":0.1},{"e":"P4","t":50,"C":0.1,"I":0.2},{"e":"P4","t":100,"C":-0.25,"I":-0.55},{"e":"P4","t":150,"C":-0.1,"I":-0.9},{"e":"P4","t":200,"C":-0.2,"I":-1.1},{"e":"P4","t":250,"C":0,"I":-1.25},{"e":"P4","t":300,"C":-0.1,"I":-1.45},{"e":"P4","t":350,"C":0.1,"I":-1.25},{"e":"P4","t":400,"C":0,"I":-1.25},{"e":"P4","t":450,"C":0.2,"I":-1.1},{"e":"P4","t":500,"C":0.1,"I":-0.7},{"e":"P4","t":550,"C":0.35,"I":0.2},{"e":"P4","t":600,"C":0.45,"I":1.25},{"e":"P4","t":650,"C":0.55,"I":2.15},{"e":"P4","t":700,"C":0.35,"I":2.9},{"e":"P4","t":750,"C":0.45,"I":3.25},{"e":"P4","t":800,"C":0.35,"I":3.5},{"e":"P4","t":850,"C":0.2,"I":3.55},{"e":"P4","t":900,"C":-0.2,"I":3.4},{"e":"P4","t":950,"C":-0.35,"I":3.05},{"e":"P4","t":1000,"C":-0.6,"I":2.35},{"e":"P4","t":1050,"C":-0.2,"I":1.25},{"e":"P4","t":1100,"C":-0.9,"I":0.2},{"e":"P4","t":1150,"C":-1.25,"I":-0.6},{"e":"P4","t":1200,"C":-0.35,"I":-1.1},{"e":"P4","t":1250,"C":-1.1,"I":-1.25},{"e":"P4","t":1300,"C":-0.7,"I":-1.6},{"e":"P4","t":1350,"C":-1.25,"I":-1.45},{"e":"P4","t":1400,"C":-0.2,"I":-1.25},
{"e":"P8","t":-200,"C":0.1,"I":0.1},{"e":"P8","t":-150,"C":-0.2,"I":-0.2},{"e":"P8","t":-100,"C":0.2,"I":0.2},{"e":"P8","t":-50,"C":-0.1,"I":0},{"e":"P8","t":0,"C":0,"I":0.1},{"e":"P8","t":50,"C":-0.3,"I":-0.15},{"e":"P8","t":100,"C":-0.3,"I":-0.3},{"e":"P8","t":150,"C":0,"I":-0.65},{"e":"P8","t":200,"C":-0.2,"I":-0.7},{"e":"P8","t":250,"C":0.1,"I":-0.9},{"e":"P8","t":300,"C":-0.3,"I":-1.1},{"e":"P8","t":350,"C":0,"I":-0.9},{"e":"P8","t":400,"C":-0.1,"I":-0.7},{"e":"P8","t":450,"C":0.2,"I":-0.9},{"e":"P8","t":500,"C":0.05,"I":-0.55},{"e":"P8","t":550,"C":0.35,"I":-0.2},{"e":"P8","t":600,"C":0.2,"I":0.35},{"e":"P8","t":650,"C":0.35,"I":0.9},{"e":"P8","t":700,"C":0.3,"I":1.15},{"e":"P8","t":750,"C":0.35,"I":1.6},{"e":"P8","t":800,"C":0.3,"I":2.0},{"e":"P8","t":850,"C":0.2,"I":2.15},{"e":"P8","t":900,"C":0.1,"I":1.9},{"e":"P8","t":950,"C":0,"I":1.6},{"e":"P8","t":1000,"C":-0.05,"I":1.25},{"e":"P8","t":1050,"C":-0.3,"I":0.55},{"e":"P8","t":1100,"C":-0.2,"I":-0.05},{"e":"P8","t":1150,"C":-0.55,"I":-0.55},{"e":"P8","t":1200,"C":-0.35,"I":-0.7},{"e":"P8","t":1250,"C":-0.55,"I":-1.25},{"e":"P8","t":1300,"C":-0.2,"I":-1.45},{"e":"P8","t":1350,"C":-0.7,"I":-1.1},{"e":"P8","t":1400,"C":-0.2,"I":-0.7},
{"e":"O1","t":-200,"C":0.1,"I":0.1},{"e":"O1","t":-150,"C":-0.2,"I":-0.2},{"e":"O1","t":-100,"C":0.2,"I":0.3},{"e":"O1","t":-50,"C":-0.1,"I":-0.1},{"e":"O1","t":0,"C":0.1,"I":0.1},{"e":"O1","t":50,"C":0.25,"I":0.2},{"e":"O1","t":100,"C":0.2,"I":-0.45},{"e":"O1","t":150,"C":0.3,"I":-1.0},{"e":"O1","t":200,"C":-0.1,"I":-1.2},{"e":"O1","t":250,"C":0.25,"I":-1.35},{"e":"O1","t":300,"C":-0.2,"I":-1.5},{"e":"O1","t":350,"C":0.25,"I":-1.35},{"e":"O1","t":400,"C":-0.05,"I":-1.0},{"e":"O1","t":450,"C":-0.3,"I":-0.8},{"e":"O1","t":500,"C":0.05,"I":-0.55},{"e":"O1","t":550,"C":-0.2,"I":0.05},{"e":"O1","t":600,"C":0.05,"I":0.8},{"e":"O1","t":650,"C":-0.3,"I":1.5},{"e":"O1","t":700,"C":-0.1,"I":2.05},{"e":"O1","t":750,"C":-0.45,"I":2.35},{"e":"O1","t":800,"C":-0.2,"I":2.5},{"e":"O1","t":850,"C":-0.55,"I":2.25},{"e":"O1","t":900,"C":-0.3,"I":1.9},{"e":"O1","t":950,"C":-0.65,"I":1.7},{"e":"O1","t":1000,"C":-0.8,"I":1.15},{"e":"O1","t":1050,"C":-0.65,"I":0.45},{"e":"O1","t":1100,"C":-1.0,"I":-0.3},{"e":"O1","t":1150,"C":-0.8,"I":-0.65},{"e":"O1","t":1200,"C":-1.2,"I":-0.45},{"e":"O1","t":1250,"C":-0.65,"I":-0.65},{"e":"O1","t":1300,"C":-0.9,"I":-0.8},{"e":"O1","t":1350,"C":-0.55,"I":-0.65},{"e":"O1","t":1400,"C":-0.4,"I":-0.45},
{"e":"OZ","t":-200,"C":0.1,"I":0.1},{"e":"OZ","t":-150,"C":-0.2,"I":-0.2},{"e":"OZ","t":-100,"C":0.2,"I":0.2},{"e":"OZ","t":-50,"C":-0.1,"I":0},{"e":"OZ","t":0,"C":0.1,"I":0.1},{"e":"OZ","t":50,"C":0.25,"I":0.15},{"e":"OZ","t":100,"C":0.45,"I":-0.3},{"e":"OZ","t":150,"C":0.6,"I":-0.65},{"e":"OZ","t":200,"C":0.35,"I":-1.0},{"e":"OZ","t":250,"C":0.6,"I":-1.35},{"e":"OZ","t":300,"C":0.45,"I":-1.45},{"e":"OZ","t":350,"C":0.6,"I":-1.55},{"e":"OZ","t":400,"C":0.25,"I":-1.35},{"e":"OZ","t":450,"C":0.45,"I":-1.0},{"e":"OZ","t":500,"C":0.15,"I":-0.3},{"e":"OZ","t":550,"C":0.35,"I":0.45},{"e":"OZ","t":600,"C":0.5,"I":0.95},{"e":"OZ","t":650,"C":0.25,"I":1.5},{"e":"OZ","t":700,"C":0.45,"I":1.95},{"e":"OZ","t":750,"C":0.05,"I":2.25},{"e":"OZ","t":800,"C":0.35,"I":2.15},{"e":"OZ","t":850,"C":0,"I":2.05},{"e":"OZ","t":900,"C":0.05,"I":1.7},{"e":"OZ","t":950,"C":-0.3,"I":1.5},{"e":"OZ","t":1000,"C":-0.1,"I":1.15},{"e":"OZ","t":1050,"C":-0.45,"I":0.6},{"e":"OZ","t":1100,"C":-0.35,"I":0.05},{"e":"OZ","t":1150,"C":-0.8,"I":-0.3},{"e":"OZ","t":1200,"C":-0.65,"I":-0.45},{"e":"OZ","t":1250,"C":-0.45,"I":-0.65},{"e":"OZ","t":1300,"C":-0.65,"I":-0.7},{"e":"OZ","t":1350,"C":-0.45,"I":-0.55},{"e":"OZ","t":1400,"C":-0.3,"I":-0.45},
{"e":"O2","t":-200,"C":0.1,"I":0.1},{"e":"O2","t":-150,"C":-0.2,"I":-0.2},{"e":"O2","t":-100,"C":0.2,"I":0.3},{"e":"O2","t":-50,"C":-0.1,"I":-0.1},{"e":"O2","t":0,"C":0,"I":0.1},{"e":"O2","t":50,"C":0.25,"I":-0.1},{"e":"O2","t":100,"C":0.45,"I":-0.4},{"e":"O2","t":150,"C":0.6,"I":-0.65},{"e":"O2","t":200,"C":0.25,"I":-0.9},{"e":"O2","t":250,"C":0.45,"I":-1.1},{"e":"O2","t":300,"C":0.25,"I":-1.2},{"e":"O2","t":350,"C":0.45,"I":-1.3},{"e":"O2","t":400,"C":0.2,"I":-1.0},{"e":"O2","t":450,"C":0.45,"I":-0.65},{"e":"O2","t":500,"C":0.25,"I":-0.3},{"e":"O2","t":550,"C":0.55,"I":0.25},{"e":"O2","t":600,"C":0.35,"I":0.95},{"e":"O2","t":650,"C":0.45,"I":1.5},{"e":"O2","t":700,"C":0.2,"I":2.0},{"e":"O2","t":750,"C":0.35,"I":2.25},{"e":"O2","t":800,"C":0.05,"I":2.35},{"e":"O2","t":850,"C":0.2,"I":2.1},{"e":"O2","t":900,"C":-0.1,"I":1.7},{"e":"O2","t":950,"C":-0.2,"I":1.15},{"e":"O2","t":1000,"C":-0.3,"I":0.45},{"e":"O2","t":1050,"C":-0.4,"I":-0.2},{"e":"O2","t":1100,"C":-0.55,"I":-0.45},{"e":"O2","t":1150,"C":-0.65,"I":-0.65},{"e":"O2","t":1200,"C":-0.8,"I":-0.75},{"e":"O2","t":1250,"C":-0.75,"I":-1.0},{"e":"O2","t":1300,"C":-0.55,"I":-1.2},{"e":"O2","t":1350,"C":-0.75,"I":-1.0},{"e":"O2","t":1400,"C":-0.45,"I":-0.9}
]
},
"layer":[
{"data":{"name":"electrodes"},
 "transform":[{"calculate":"datum.ex - 200 * 0.0001524","as":"x1"},{"calculate":"datum.ex + 1400 * 0.0001524","as":"x2"}],
 "mark":{"type":"rule","color":"#555555","strokeWidth":1.2},
 "encoding":{"x":{"field":"x1","type":"quantitative","scale":{"domain":[-1.567,1.6089],"nice":false,"zero":false},"axis":null},"x2":{"field":"x2"},"y":{"field":"ey","type":"quantitative","scale":{"domain":[-1.5047,1.0483],"nice":false,"zero":false},"axis":null}}},
{"data":{"name":"electrodes"},
 "transform":[{"calculate":"datum.ey + 4 * 0.02584","as":"y1"},{"calculate":"datum.ey - 4 * 0.02584","as":"y2"}],
 "mark":{"type":"rule","color":"#444444","strokeWidth":1.5},
 "encoding":{"x":{"field":"ex","type":"quantitative","scale":{"domain":[-1.567,1.6089],"nice":false,"zero":false},"axis":null},"y":{"field":"y1","type":"quantitative","scale":{"domain":[-1.5047,1.0483],"nice":false,"zero":false},"axis":null},"y2":{"field":"y2"}}},
{"data":{"name":"electrodes"},
 "transform":[{"calculate":"datum.ey + 4 * 0.02584","as":"y1"}],
 "mark":{"type":"tick","orient":"horizontal","size":5,"thickness":1.3,"color":"#444444"},
 "encoding":{"x":{"field":"ex","type":"quantitative","scale":{"domain":[-1.567,1.6089],"nice":false,"zero":false},"axis":null},"y":{"field":"y1","type":"quantitative","scale":{"domain":[-1.5047,1.0483],"nice":false,"zero":false},"axis":null}}},
{"data":{"name":"electrodes"},
 "transform":[{"calculate":"datum.ey - 4 * 0.02584","as":"y2"}],
 "mark":{"type":"tick","orient":"horizontal","size":5,"thickness":1.3,"color":"#444444"},
 "encoding":{"x":{"field":"ex","type":"quantitative","scale":{"domain":[-1.567,1.6089],"nice":false,"zero":false},"axis":null},"y":{"field":"y2","type":"quantitative","scale":{"domain":[-1.5047,1.0483],"nice":false,"zero":false},"axis":null}}},
{"data":{"name":"erp"},
 "transform":[
  {"fold":["C","I"],"as":["cond","v"]},
  {"lookup":"e","from":{"data":{"name":"electrodes"},"key":"e","fields":["ex","ey"]}},
  {"calculate":"datum.ex + 0.0001524 * datum.t","as":"px"},
  {"calculate":"datum.ey - 0.02584 * datum.v","as":"py"}
 ],
 "mark":{"type":"line","strokeWidth":1.2},
 "encoding":{
  "x":{"field":"px","type":"quantitative","scale":{"domain":[-1.567,1.6089],"nice":false,"zero":false},"axis":null},
  "y":{"field":"py","type":"quantitative","scale":{"domain":[-1.5047,1.0483],"nice":false,"zero":false},"axis":null},
  "color":{"field":"cond","type":"nominal","scale":{"domain":["C","I"],"range":["#000000","#ff0000"]},
   "legend":{"orient":"none","legendX":10,"legendY":803,"title":null,"padding":0,"symbolType":"stroke","symbolSize":12321,"symbolStrokeWidth":2,"labelFont":"Liberation Serif","labelFontSize":32,"labelColor":"#000000","labelOffset":6,"labelLimit":500,"clipHeight":34,"rowPadding":-13,"labelBaseline":"bottom","labelExpr":"datum.label == 'C' ? 'Congruent' : 'Incongruent semantic'"}},
  "detail":{"field":"e"},
  "order":{"field":"t","type":"quantitative"}
 }},
{"data":{"name":"electrodes"},
 "mark":{"type":"text","dx":-21,"dy":-27,"align":"center","baseline":"alphabetic","font":"Liberation Sans","fontSize":15,"color":"#000000"},
 "encoding":{"x":{"field":"ex","type":"quantitative","scale":{"domain":[-1.567,1.6089],"nice":false,"zero":false},"axis":null},"y":{"field":"ey","type":"quantitative","scale":{"domain":[-1.5047,1.0483],"nice":false,"zero":false},"axis":null},"text":{"field":"e"}}},
{"data":{"values":[{}]},
 "mark":{"type":"rule","color":"#000000","strokeWidth":1.5},
 "encoding":{"x":{"datum":0.9609,"type":"quantitative","scale":{"domain":[-1.567,1.6089],"nice":false,"zero":false},"axis":null},"x2":{"datum":1.5894},"y":{"datum":-1.2701,"type":"quantitative","scale":{"domain":[-1.5047,1.0483],"nice":false,"zero":false},"axis":null}}},
{"data":{"values":[{}]},
 "mark":{"type":"rule","color":"#000000","strokeWidth":1.5},
 "encoding":{"x":{"datum":1.1564,"type":"quantitative","scale":{"domain":[-1.567,1.6089],"nice":false,"zero":false},"axis":null},"y":{"datum":-1.0103,"type":"quantitative","scale":{"domain":[-1.5047,1.0483],"nice":false,"zero":false},"axis":null},"y2":{"datum":-1.5047}}},
{"data":{"values":[{}]},
 "mark":{"type":"text","align":"right","baseline":"alphabetic","dx":-5,"font":"Liberation Serif","fontSize":22,"color":"#000000","text":"-4 µV"},
 "encoding":{"x":{"datum":1.1564,"type":"quantitative","scale":{"domain":[-1.567,1.6089],"nice":false,"zero":false},"axis":null},"y":{"datum":-1.0634,"type":"quantitative","scale":{"domain":[-1.5047,1.0483],"nice":false,"zero":false},"axis":null}}},
{"data":{"values":[{}]},
 "mark":{"type":"text","align":"right","baseline":"alphabetic","dx":-5,"font":"Liberation Serif","fontSize":22,"color":"#000000","text":"4 µV"},
 "encoding":{"x":{"datum":1.1564,"type":"quantitative","scale":{"domain":[-1.567,1.6089],"nice":false,"zero":false},"axis":null},"y":{"datum":-1.488,"type":"quantitative","scale":{"domain":[-1.5047,1.0483],"nice":false,"zero":false},"axis":null}}},
{"data":{"values":[{}]},
 "mark":{"type":"text","align":"left","baseline":"alphabetic","font":"Liberation Serif","fontSize":22,"color":"#000000","text":"-200"},
 "encoding":{"x":{"datum":0.9609,"type":"quantitative","scale":{"domain":[-1.567,1.6089],"nice":false,"zero":false},"axis":null},"y":{"datum":-1.3372,"type":"quantitative","scale":{"domain":[-1.5047,1.0483],"nice":false,"zero":false},"axis":null}}},
{"data":{"values":[{}]},
 "mark":{"type":"text","align":"right","baseline":"alphabetic","font":"Liberation Serif","fontSize":22,"color":"#000000","text":"1400 ms"},
 "encoding":{"x":{"datum":1.5894,"type":"quantitative","scale":{"domain":[-1.567,1.6089],"nice":false,"zero":false},"axis":null},"y":{"datum":-1.3372,"type":"quantitative","scale":{"domain":[-1.5047,1.0483],"nice":false,"zero":false},"axis":null}}}
]
}
